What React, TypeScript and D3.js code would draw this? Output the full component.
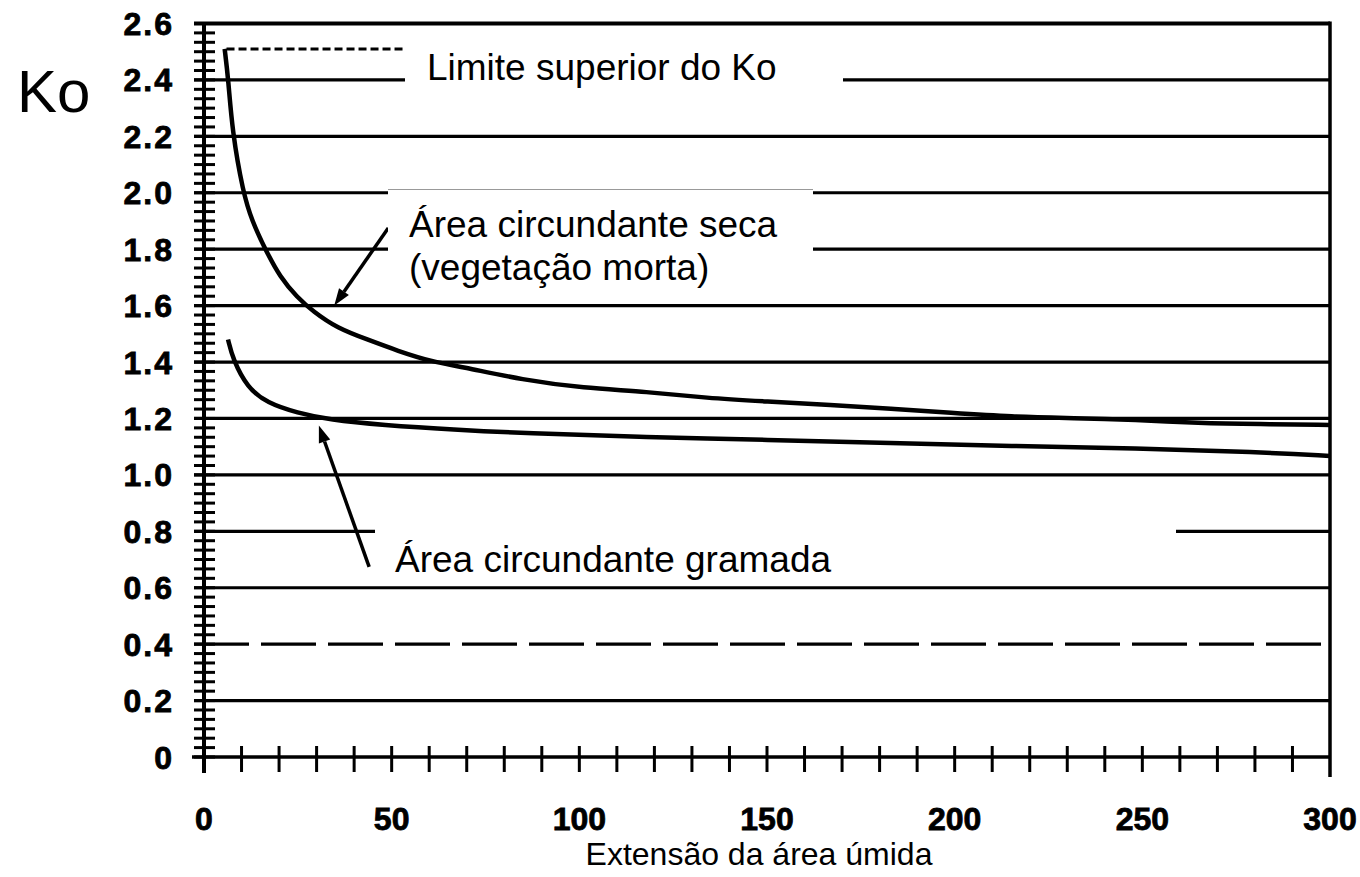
import React from 'react'
import * as d3 from 'd3'

const width = 1360
const height = 877

// valores
const xTickValues = [0, 50, 100, 150, 200, 250, 300]
const xMinorTicks = [10, 20, 30, 40, 60, 70, 80, 90, 110, 120, 130, 140, 160, 170, 180, 190, 210, 220, 230, 240, 260, 270, 280, 290]
const yTickValues = [0, 0.2, 0.4, 0.6, 0.8, 1.0, 1.2, 1.4, 1.6, 1.8, 2.0, 2.2, 2.4, 2.6]
const yTickLabels = ['0', '0.2', '0.4', '0.6', '0.8', '1.0', '1.2', '1.4', '1.6', '1.8', '2.0', '2.2', '2.4', '2.6']
const yMinorPerMajor = 6

const secaX = [5.5, 6.5, 7.5, 10.4, 12.8, 16.3, 20.3, 24.8, 29, 35.5, 43.5, 51.5, 61, 68.5, 85, 101, 118, 134, 150, 167, 183, 199, 215, 232, 248, 265, 281, 300]
const secaY = [2.51, 2.4, 2.22, 2.0, 1.9, 1.8, 1.7, 1.63, 1.58, 1.52, 1.48, 1.44, 1.4, 1.384, 1.336, 1.308, 1.295, 1.272, 1.26, 1.248, 1.234, 1.22, 1.206, 1.201, 1.195, 1.184, 1.18, 1.177]

const gramadaX = [6.4, 7.7, 11.5, 16.8, 24.8, 33.6, 47, 68.5, 85, 118, 150, 183, 215, 248, 281, 300]
const gramadaY = [1.48, 1.41, 1.31, 1.255, 1.22, 1.195, 1.177, 1.159, 1.148, 1.134, 1.124, 1.113, 1.102, 1.094, 1.081, 1.067]

const limiteKo = 2.51
const limiteRange = [6, 53]

// setas: [x0, y0] -> ponta [x1, y1]
const secaArrow = [[49.1, 1.875], [34.7, 1.6]]
const gramadaArrow = [[44, 0.674], [30.6, 1.175]]

const x = d3.scaleLinear().domain([0, 300]).range([204, 1330])
const y = d3.scaleLinear().domain([0, 2.6]).range([757, 23.5])

const line = d3
  .line<[number, number]>()
  .x(d => x(d[0]))
  .y(d => y(d[1]))
  .curve(d3.curveBasis)

const font = '"Liberation Sans", Arial, sans-serif'

function Arrow({ pts }: { pts: number[][] }) {
  const x0 = x(pts[0][0])
  const y0 = y(pts[0][1])
  const x1 = x(pts[1][0])
  const y1 = y(pts[1][1])
  const ang = Math.atan2(y1 - y0, x1 - x0)
  const len = 17
  const half = 6
  const bx = x1 - len * Math.cos(ang)
  const by = y1 - len * Math.sin(ang)
  const px = -Math.sin(ang) * half
  const py = Math.cos(ang) * half
  return (
    <g>
      <line x1={x0} y1={y0} x2={bx} y2={by} stroke="#000" strokeWidth={3.5} />
      <polygon points={`${x1},${y1} ${bx + px},${by + py} ${bx - px},${by - py}`} fill="#000" />
    </g>
  )
}

export default function App() {
  const yMinor = d3.range(0, 2.6 + 1e-9, 0.2 / yMinorPerMajor)
  const left = x(0)
  const right = x(300)

  return (
    <svg
      width={width}
      height={height}
      style={{ position: 'absolute', left: 0, top: 0, background: '#fff' }}
    >
      <rect width={width} height={height} fill="#fff" />

      {/* linhas de grade */}
      {yTickValues.slice(1, -1).map(v => (
        <line
          key={v}
          x1={left - 10}
          x2={right}
          y1={y(v)}
          y2={y(v)}
          stroke="#000"
          strokeWidth={3.2}
          strokeDasharray={Math.abs(v - 0.4) < 1e-6 ? '55 12' : undefined}
        />
      ))}
      {/* borda superior */}
      <line x1={left - 10} x2={right} y1={y(2.6)} y2={y(2.6)} stroke="#000" strokeWidth={4} />
      {/* eixo x */}
      <line x1={left - 12} x2={right} y1={y(0)} y2={y(0)} stroke="#000" strokeWidth={3.5} />
      {/* eixo y e borda direita */}
      <line x1={left} x2={left} y1={y(2.6) - 1} y2={y(0) + 16} stroke="#000" strokeWidth={4} />
      <line x1={right} x2={right} y1={y(2.6) - 2} y2={y(0) + 20} stroke="#000" strokeWidth={3.5} />

      {/* marcas menores do eixo y */}
      {yMinor.map((v, i) => (
        <line key={i} x1={left - 10} x2={left + 11} y1={y(v)} y2={y(v)} stroke="#000" strokeWidth={3} />
      ))}
      {/* marcas do eixo x */}
      {xMinorTicks.concat([50, 100, 150, 200, 250]).map(v => (
        <line key={v} x1={x(v)} x2={x(v)} y1={y(0) - 11} y2={y(0) + 15} stroke="#000" strokeWidth={3} />
      ))}

      {/* limite superior */}
      <line
        x1={x(limiteRange[0])}
        x2={x(limiteRange[1])}
        y1={y(limiteKo)}
        y2={y(limiteKo)}
        stroke="#000"
        strokeWidth={3}
        strokeDasharray="8 4"
      />

      {/* curvas */}
      <path
        d={line(secaX.map((v, i) => [v, secaY[i]] as [number, number])) || ''}
        fill="none"
        stroke="#000"
        strokeWidth={4.5}
      />
      <path
        d={line(gramadaX.map((v, i) => [v, gramadaY[i]] as [number, number])) || ''}
        fill="none"
        stroke="#000"
        strokeWidth={4.5}
      />

      <Arrow pts={secaArrow} />
      <Arrow pts={gramadaArrow} />

      {/* caixas dos rótulos */}
      <rect x={405} y={38} width={438} height={62} fill="#fff" />
      <rect x={388} y={189} width={425} height={113} fill="#fff" />
      <line x1={388} x2={813} y1={189.5} y2={189.5} stroke="#999" strokeWidth={1} />
      <rect x={375} y={500} width={801} height={84} fill="#fff" />

      <g fontFamily={font} fontSize={37} fill="#000">
        <text x={427} y={80}>Limite superior do Ko</text>
        <text x={409} y={237}>Área circundante seca</text>
        <text x={409} y={280}>(vegetação morta)</text>
        <text x={395} y={572}>Área circundante gramada</text>
      </g>

      {/* rótulos dos eixos */}
      <g fontFamily={font} fontSize={32} fontWeight="bold" fill="#000" stroke="#000" strokeWidth={0.8}>
        {yTickValues.map((v, i) => (
          <text key={v} x={174} y={y(v)} dy="0.36em" textAnchor="end" letterSpacing={2}>
            {yTickLabels[i]}
          </text>
        ))}
        {xTickValues.map(v => (
          <text key={v} x={x(v)} y={830} textAnchor="middle">
            {v}
          </text>
        ))}
      </g>

      <text x={17} y={112} fontFamily={font} fontSize={60} fill="#000">
        Ko
      </text>
      <text x={759} y={865} fontFamily={font} fontSize={32} textAnchor="middle" fill="#000">
        Extensão da área úmida
      </text>
    </svg>
  )
}
